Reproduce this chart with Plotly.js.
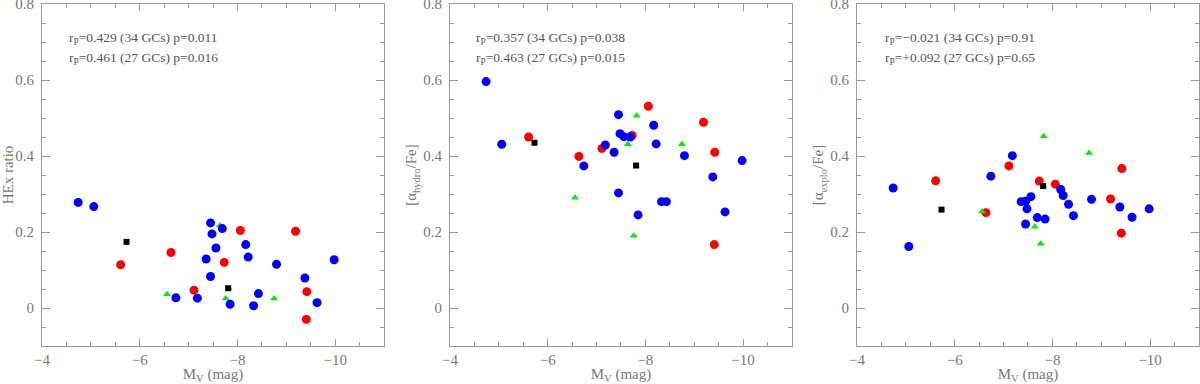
<!DOCTYPE html>
<html>
<head>
<meta charset="utf-8">
<script src="https://cdn.plot.ly/plotly-3.0.1.min.js"></script>
<style>
  body { margin: 0; background: #fff; }
  #graf { width: 1200px; height: 384px; }
</style>
</head>
<body>
<div id="graf"></div>
<script>
// --- dane: M_V oraz trzy wielkosci dla kazdej grupy GC ---
const mv_blue = [-4.74, -5.06, -6.74, -7.18, -7.36, -7.45, -7.45, -7.48, -7.56, -7.69, -7.85, -8.17, -8.22, -8.33, -8.43, -8.80, -9.38, -9.63, -9.98];
const hex_blue = [0.278, 0.267, 0.027, 0.026, 0.129, 0.224, 0.083, 0.195, 0.158, 0.209, 0.010, 0.167, 0.134, 0.006, 0.038, 0.115, 0.079, 0.014, 0.127];
const hydro_blue = [0.596, 0.431, 0.374, 0.429, 0.410, 0.509, 0.303, 0.459, 0.451, 0.450, 0.245, 0.481, 0.432, 0.280, 0.280, 0.401, 0.345, 0.253, 0.388];
const explo_blue = [0.316, 0.162, 0.347, 0.401, 0.280, 0.281, 0.221, 0.261, 0.293, 0.238, 0.234, 0.312, 0.296, 0.273, 0.243, 0.286, 0.266, 0.239, 0.261];

const mv_red = [-5.61, -6.64, -7.11, -7.73, -8.06, -9.19, -9.42, -9.41];
const hex_red = [0.114, 0.146, 0.047, 0.120, 0.204, 0.202, 0.043, -0.030];
const hydro_red = [0.450, 0.399, 0.420, 0.454, 0.531, 0.489, 0.410, 0.167];
const explo_red = [0.335, 0.251, 0.374, 0.334, 0.326, 0.287, 0.367, 0.197];

const mv_green = [-6.56, -7.64, -7.76, -7.82, -8.75];
const hex_green = [0.036, 0.217, 0.025, 0.052, 0.025];
const hydro_green = [0.290, 0.431, 0.190, 0.506, 0.431];
const explo_green = [0.254, 0.214, 0.169, 0.452, 0.408];

const mv_black = [-5.73, -7.81];
const hex_black = [0.174, 0.052];
const hydro_black = [0.435, 0.375];
const explo_black = [0.259, 0.321];

const yTitles = ["HEx ratio", "[α<sub>hydro</sub>/Fe]", "[α<sub>explo</sub>/Fe]"];
const statLines = [
    ["r<sub>P</sub>=0.429 (34 GCs) p=0.011", "r<sub>P</sub>=0.461 (27 GCs) p=0.016"],
    ["r<sub>P</sub>=0.357 (34 GCs) p=0.038", "r<sub>P</sub>=0.463 (27 GCs) p=0.015"],
    ["r<sub>P</sub>=−0.021 (34 GCs) p=0.91", "r<sub>P</sub>=+0.092 (27 GCs) p=0.65"]
];

const FONT = "Liberation Serif, Times New Roman, serif";
const SZARY = "#999";

function grupa(x, y, os, kolor, symbol, rozmiar) {
    return {
        x: x, y: y,
        xaxis: "x" + os, yaxis: "y" + os,
        type: "scatter", mode: "markers",
        marker: { color: kolor, symbol: symbol, size: rozmiar, line: { width: 0 } },
        showlegend: false, hoverinfo: "skip"
    };
}

const dane = [];
const kolumny = [
    [hex_red, hex_green, hex_blue, hex_black],
    [hydro_red, hydro_green, hydro_blue, hydro_black],
    [explo_red, explo_green, explo_blue, explo_black]
];
kolumny.forEach((k, i) => {
    const os = i === 0 ? "" : String(i + 1);
    dane.push(grupa(mv_red, k[0], os, "#ff0000", "circle", 9));
    dane.push(grupa(mv_green, k[1], os, "#00ee00", "triangle-up", 7));
    dane.push(grupa(mv_blue, k[2], os, "#0000ff", "circle", 9));
    dane.push(grupa(mv_black, k[3], os, "#000000", "square", 6));
});

const domeny = [[0, 0.2956], [0.3526, 0.6482], [0.7044, 1.0]];
const annX = [0.072, 0.070, 0.075];

const layout = {
    width: 1200, height: 384,
    margin: { l: 42, r: 1, t: 4, b: 38 },
    paper_bgcolor: "#fff", plot_bgcolor: "#fff",
    annotations: []
};

domeny.forEach((d, i) => {
    const s = i === 0 ? "" : String(i + 1);
    layout["xaxis" + s] = {
        domain: d, anchor: "y" + s,
        range: [-4, -11], dtick: 2, tick0: 0,
        showgrid: false, zeroline: false,
        showline: true, linecolor: SZARY, linewidth: 1, mirror: "ticks",
        ticks: "inside", ticklen: 7, tickcolor: SZARY, tickwidth: 1,
        minor: { dtick: 0.5, ticks: "inside", ticklen: 4, tickcolor: SZARY, showgrid: false },
        tickfont: { family: FONT, size: 15, color: "#777" },
        ticklabeloverflow: "allow",
        title: { text: "M<sub>V</sub> (mag)", font: { family: FONT, size: 15, color: "#777" }, standoff: 4 }
    };
    layout["yaxis" + s] = {
        domain: [0, 1], anchor: "x" + s,
        range: [-0.1, 0.8002], dtick: 0.2, tick0: 0,
        showgrid: false, zeroline: false,
        showline: true, linecolor: SZARY, linewidth: 1, mirror: "ticks",
        ticks: "inside", ticklen: 8, tickcolor: SZARY, tickwidth: 1,
        ticklabelstandoff: 4, ticklabeloverflow: "allow",
        minor: { dtick: 0.05, ticks: "inside", ticklen: 4, tickcolor: SZARY, showgrid: false },
        tickfont: { family: FONT, size: 15, color: "#777" },
        title: { text: yTitles[i], font: { family: FONT, size: 15, color: "#777" }, standoff: 2 }
    };
    statLines[i].forEach((t, j) => {
        layout.annotations.push({
            xref: "x" + s + " domain", yref: "y" + s + " domain",
            x: annX[i], y: j === 0 ? 0.898 : 0.842,
            xanchor: "left", yanchor: "middle",
            text: t, showarrow: false,
            font: { family: FONT, size: 13.5, color: "#555" }
        });
    });
});

Plotly.newPlot("graf", dane, layout, { staticPlot: true });
</script>
</body>
</html>
